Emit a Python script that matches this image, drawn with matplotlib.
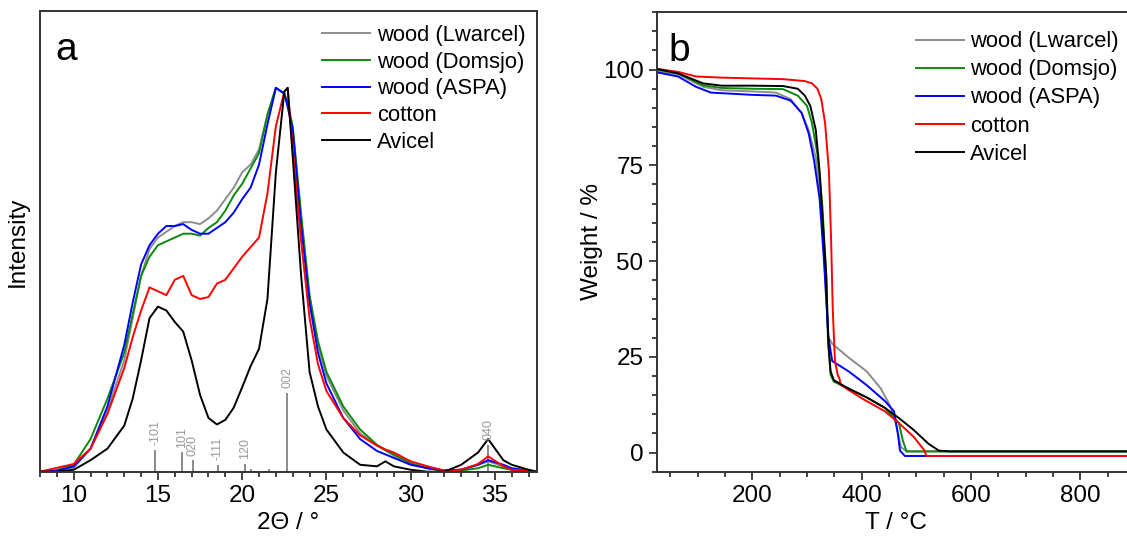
import numpy as np
import matplotlib
matplotlib.use('Agg')
import matplotlib.pyplot as plt
from matplotlib.ticker import MultipleLocator

plt.rcParams['font.family'] = ['Liberation Sans', 'DejaVu Sans']

labels = ['wood (Lwarcel)', 'wood (Domsjo)', 'wood (ASPA)', 'cotton', 'Avicel']
colors = ['#8c8c8c', '#0a8a0a', '#0000ff', '#ff0000', '#000000']

# XRD, intensity normalised to the 002 peak
xrd_x = [8, 9, 10, 11, 12, 13, 13.5, 14, 14.5, 15, 15.5, 16, 16.5, 17, 17.5, 18, 18.5,
         19, 19.5, 20, 20.5, 21, 21.5, 22, 22.5, 22.7, 23, 23.5, 24, 24.5, 25, 26, 27,
         28, 28.5, 29, 30, 31, 32, 33, 34, 34.6, 35.5, 36, 37, 37.5]
xrd_lwarcel = [0, 0.003, 0.01, 0.06, 0.16, 0.29, 0.40, 0.51, 0.58, 0.61, 0.625, 0.64, 0.65,
               0.65, 0.645, 0.66, 0.68, 0.71, 0.74, 0.78, 0.80, 0.84, 0.93, 1.0, 0.985,
               0.96, 0.89, 0.66, 0.45, 0.33, 0.25, 0.16, 0.10, 0.068, 0.055, 0.042, 0.02,
               0.009, 0.003, 0.006, 0.018, 0.027, 0.014, 0.005, 0.002, 0]
xrd_domsjo = [0, 0.004, 0.018, 0.085, 0.19, 0.31, 0.41, 0.51, 0.56, 0.59, 0.60, 0.61, 0.62,
              0.62, 0.615, 0.635, 0.65, 0.68, 0.72, 0.75, 0.79, 0.83, 0.93, 1.0, 0.985,
              0.96, 0.90, 0.67, 0.46, 0.34, 0.26, 0.17, 0.11, 0.07, 0.057, 0.045, 0.022,
              0.009, 0.003, 0.003, 0.009, 0.018, 0.009, 0.005, 0.002, 0]
xrd_aspa = [0, 0.002, 0.014, 0.06, 0.17, 0.33, 0.44, 0.54, 0.59, 0.62, 0.64, 0.64, 0.645,
            0.63, 0.62, 0.62, 0.635, 0.65, 0.675, 0.71, 0.74, 0.80, 0.905, 1.0, 0.985,
            0.95, 0.89, 0.64, 0.44, 0.31, 0.23, 0.14, 0.085, 0.054, 0.045, 0.036, 0.018,
            0.009, 0.003, 0.005, 0.018, 0.03, 0.018, 0.009, 0.003, 0]
xrd_cotton = [0, 0.01, 0.02, 0.06, 0.15, 0.27, 0.35, 0.42, 0.48, 0.47, 0.46, 0.50, 0.51,
              0.46, 0.45, 0.455, 0.49, 0.50, 0.53, 0.56, 0.585, 0.61, 0.725, 0.90, 0.99,
              1.0, 0.84, 0.60, 0.40, 0.28, 0.21, 0.14, 0.095, 0.068, 0.058, 0.05, 0.027,
              0.014, 0.003, 0.005, 0.02, 0.04, 0.014, 0.005, 0.002, 0]
xrd_avicel = [0, 0, 0.005, 0.03, 0.06, 0.12, 0.19, 0.29, 0.40, 0.43, 0.42, 0.39, 0.365,
              0.29, 0.20, 0.14, 0.123, 0.135, 0.167, 0.22, 0.275, 0.32, 0.45, 0.78, 0.99,
              1.0, 0.82, 0.51, 0.26, 0.17, 0.11, 0.05, 0.018, 0.014, 0.027, 0.014, 0.005,
              0, 0, 0.018, 0.05, 0.085, 0.03, 0.018, 0.005, 0]

# reflections (position, stick height, label)
hkl_pos = [14.85, 16.43, 17.08, 18.56, 20.19, 20.5, 21.6, 22.68, 34.6]
hkl_height = [0.057, 0.05, 0.03, 0.018, 0.02, 0.006, 0.008, 0.205, 0.07]
hkl_label = ['-101', '101', '020', '-111', '120', '', '', '002', '040']

# TGA
tga_lwarcel_T = [25, 64, 110, 144, 200, 243, 270, 290, 303, 316, 326, 333, 339, 346, 376,
                 409, 435, 452, 462, 472, 482, 900]
tga_lwarcel_W = [99.5, 98.8, 95.5, 94.6, 94.3, 94.0, 92.3, 88.7, 84.2, 77.0, 64.4, 46.4,
                 30.2, 28.4, 24.8, 21.2, 16.7, 12.2, 7.7, 1.4, 0.3, 0.3]
tga_domsjo_T = [25, 64, 110, 144, 200, 256, 283, 300, 309, 319, 328, 335, 338, 343, 349,
                376, 409, 442, 468, 475, 482, 900]
tga_domsjo_W = [100, 99.0, 95.9, 95.2, 95.0, 94.9, 93.2, 90.5, 86.0, 77.9, 64.4, 46.4,
                30.2, 20.3, 18.5, 16.7, 14.4, 11.7, 7.7, 3.2, 0.3, 0.3]
tga_aspa_T = [25, 64, 97, 124, 200, 243, 270, 290, 303, 313, 323, 331, 339, 346, 376, 409,
              442, 459, 466, 470, 479, 900]
tga_aspa_W = [99.3, 98.2, 95.5, 94.0, 93.4, 93.2, 91.9, 88.7, 83.3, 76.1, 66.2, 50.0, 30.2,
              23.9, 21.2, 17.6, 13.5, 10.8, 5.0, 0.5, -0.9, -0.9]
tga_cotton_T = [25, 64, 97, 144, 200, 256, 296, 309, 319, 326, 333, 340, 344, 347, 351,
                356, 359, 362, 402, 442, 468, 495, 515, 518, 900]
tga_cotton_W = [100.2, 99.4, 98.2, 97.9, 97.7, 97.5, 97.0, 96.4, 95.0, 92.3, 86.0, 73.4,
                55.4, 37.4, 23.9, 20.3, 19.4, 17.6, 14.0, 10.8, 7.7, 4.1, 0.5, -0.9, -0.9]
tga_avicel_T = [25, 64, 110, 144, 200, 256, 283, 296, 306, 316, 323, 329, 335, 339, 343,
                349, 376, 409, 442, 468, 495, 522, 541, 561, 900]
tga_avicel_W = [100.2, 99.0, 96.4, 95.8, 95.8, 95.7, 95.0, 93.2, 90.5, 84.2, 73.4, 59.9,
                46.4, 28.4, 21.2, 18.9, 16.7, 14.4, 11.7, 9.0, 5.9, 2.3, 0.5, 0.3, 0.3]

fig = plt.figure(figsize=(11.27, 5.4), dpi=100)
ax1 = fig.add_axes([0.0355, 0.1265, 0.441, 0.853])
ax2 = fig.add_axes([0.5827, 0.1265, 0.4245, 0.851])

def style_axis(ax):
    for s in ax.spines.values():
        s.set_linewidth(1.4)
        s.set_color('#333333')
    ax.tick_params(which='both', direction='out', top=False, right=False,
                   labelsize=17.5, width=1.3, color='#333333')
    ax.tick_params(which='major', length=6)
    ax.tick_params(which='minor', length=3.5)

# panel a
xrd = [xrd_lwarcel, xrd_domsjo, xrd_aspa, xrd_cotton, xrd_avicel]
for y, c, l in zip(xrd, colors, labels):
    ax1.plot(xrd_x, y, color=c, lw=1.4, label=l)
for p, h, t in zip(hkl_pos, hkl_height, hkl_label):
    ax1.vlines(p, 0, h, color='#777777', lw=1.2, zorder=1)
    if t:
        ax1.text(p, h + 0.012, t, rotation=90, ha='center', va='bottom',
                 color='#999999', fontsize=9)
ax1.set_xlim(8, 37.5)
ax1.set_ylim(0, 1.2)
ax1.set_yticks([])
ax1.xaxis.set_major_locator(MultipleLocator(5))
ax1.xaxis.set_minor_locator(MultipleLocator(1))
style_axis(ax1)
ax1.set_xlabel('2Θ / °', fontsize=17.5, labelpad=4)
ax1.set_ylabel('Intensity', fontsize=17.5, labelpad=8)
ax1.text(0.03, 0.955, 'a', transform=ax1.transAxes, fontsize=28, va='top')
ax1.legend(loc='upper left', bbox_to_anchor=(0.567, 0.97), frameon=False, fontsize=15.8,
           handlelength=2.2, handletextpad=0.3, labelspacing=0.26, borderpad=0,
           borderaxespad=0)

# panel b
tga = [(tga_lwarcel_T, tga_lwarcel_W), (tga_domsjo_T, tga_domsjo_W),
       (tga_aspa_T, tga_aspa_W), (tga_cotton_T, tga_cotton_W),
       (tga_avicel_T, tga_avicel_W)]
for (T, W), c, l in zip(tga, colors, labels):
    ax2.plot(T, W, color=c, lw=1.4, label=l)
ax2.set_xlim(25, 900)
ax2.set_ylim(-5, 115)
ax2.set_yticks([0, 25, 50, 75, 100])
ax2.xaxis.set_major_locator(MultipleLocator(200))
ax2.xaxis.set_minor_locator(MultipleLocator(50))
ax2.yaxis.set_minor_locator(MultipleLocator(5))
style_axis(ax2)
ax2.set_xlabel('T / °C', fontsize=17.5, labelpad=4)
ax2.set_ylabel('Weight / %', fontsize=17.5, labelpad=0)
ax2.text(0.025, 0.955, 'b', transform=ax2.transAxes, fontsize=28, va='top')
ax2.legend(loc='upper left', bbox_to_anchor=(0.541, 0.958), frameon=False, fontsize=15.8,
           handlelength=2.2, handletextpad=0.3, labelspacing=0.32, borderpad=0,
           borderaxespad=0)

fig.savefig('out.png', dpi=100)
